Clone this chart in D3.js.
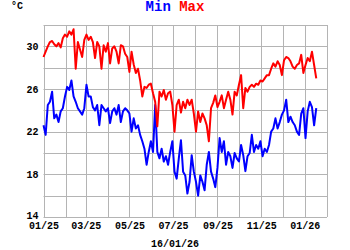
<!DOCTYPE html>
<html>
<head>
<meta charset="utf-8">
<script src="https://cdn.jsdelivr.net/npm/d3@7"></script>
<style>
  body { margin: 0; background: #fff; }
  text { font-family: "Liberation Mono", "DejaVu Sans Mono", monospace; font-weight: bold; }
</style>
</head>
<body>
<svg id="chart" width="350" height="250"></svg>
<script>
// readings every 3 days starting 01/01/25
const START_DATE = new Date(2025, 0, 1);
const STEP_DAYS = 3;

const maxTemp = [
  29.0, 29.5, 30.0, 30.4, 30.5, 30.2, 30.0, 30.3, 29.9, 30.75, 31.1, 30.9, 31.4, 31.1, 31.6, 27.9,
  30.4, 29.7, 29.0, 30.6, 31.1, 30.6, 30.9, 30.4, 28.9, 30.4, 30.0, 27.9, 30.1, 29.5, 30.3, 28.4,
  29.8, 30.0, 29.5, 28.4, 30.1, 30.0, 29.3, 29.0, 27.6, 29.5, 28.3, 27.5, 27.9, 26.8, 25.3, 26.2,
  26.1, 26.4, 26.5, 25.6, 24.8, 22.5, 25.75, 25.3, 25.9, 25.0, 25.6, 25.75, 24.5, 22.0, 24.5, 25.0,
  23.8, 24.8, 24.2, 25.0, 24.5, 25.0, 23.7, 22.0, 23.9, 22.9, 23.7, 23.25, 22.6, 21.1, 24.2, 24.7,
  25.4, 24.3, 24.8, 25.4, 24.2, 25.0, 25.75, 25.0, 23.6, 25.75, 25.4, 26.4, 27.3, 24.2, 26.1, 25.75,
  26.2, 26.4, 26.2, 26.5, 26.4, 26.8, 26.7, 27.0, 27.3, 27.3, 27.9, 28.4, 28.1, 28.6, 28.25, 27.3,
  28.7, 29.0, 28.9, 28.6, 28.1, 27.9, 28.25, 28.4, 29.2, 27.5, 28.25, 28.9, 28.6, 29.5, 28.25, 27.0
];

const minTemp = [
  22.6, 21.7, 24.5, 24.8, 25.75, 23.25, 23.6, 22.9, 23.9, 24.2, 25.3, 26.2, 25.9, 26.8, 25.3, 24.8,
  24.2, 23.9, 23.6, 24.2, 26.4, 25.3, 25.3, 24.3, 24.0, 24.5, 22.6, 24.5, 24.2, 23.9, 24.2, 22.8,
  23.9, 24.2, 23.6, 24.5, 22.9, 23.9, 24.2, 24.0, 23.7, 22.0, 23.25, 22.3, 22.6, 21.7, 21.1, 20.4,
  18.9, 20.1, 21.1, 20.1, 24.5, 20.1, 19.5, 20.4, 19.2, 19.7, 18.9, 20.1, 21.1, 18.25, 17.6, 19.5,
  21.2, 18.25, 17.9, 16.2, 17.3, 19.8, 18.25, 17.3, 16.0, 17.9, 17.3, 16.5, 18.9, 20.1, 18.25, 17.6,
  16.8, 18.6, 21.4, 20.1, 21.1, 18.9, 20.1, 19.7, 18.6, 20.0, 19.5, 19.2, 20.75, 19.8, 18.3, 19.7,
  20.0, 21.7, 20.1, 20.75, 20.4, 21.1, 19.7, 20.4, 20.1, 20.75, 22.0, 22.3, 23.25, 22.3, 22.9, 23.6,
  24.0, 25.0, 22.9, 23.4, 22.9, 22.6, 22.0, 21.7, 23.7, 24.2, 21.4, 23.9, 24.8, 24.3, 22.6, 24.2
];

const yTicks = [14, 18, 22, 26, 30];
const yGrid = [14, 16, 18, 20, 22, 24, 26, 28, 30, 32];
const title = [{ text: "Min", color: "#0000ff" }, { text: "Max", color: "#ff0000" }];
const unitLabel = "°C";
const dateLabel = "16/01/26";

const svg = d3.select("#chart");
const width = 350;
const plot = { left: 43.5, right: 327, top: 25, bottom: 217 };
const gridColor = "#b4b4b4";

const dates = maxTemp.map((_, i) => d3.timeDay.offset(START_DATE, i * STEP_DAYS));

const x = d3
  .scaleTime()
  .domain([new Date(2025, 0, 1), new Date(2026, 1, 1)])
  .range([plot.left, plot.right]);

const y = d3
  .scaleLinear()
  .domain([14, 32])
  .range([plot.bottom, plot.top]);

// grid
svg
  .append("g")
  .selectAll("line")
  .data(yGrid)
  .join("line")
  .attr("x1", plot.left)
  .attr("x2", plot.right)
  .attr("y1", (d) => Math.round(y(d)) + 0.5)
  .attr("y2", (d) => Math.round(y(d)) + 0.5)
  .attr("stroke", gridColor);

svg
  .append("g")
  .selectAll("line")
  .data(d3.timeMonth.range(new Date(2025, 0, 1), new Date(2026, 1, 2)))
  .join("line")
  .attr("x1", (d) => Math.round(x(d)) + 0.5)
  .attr("x2", (d) => Math.round(x(d)) + 0.5)
  .attr("y1", plot.top)
  .attr("y2", plot.bottom)
  .attr("stroke", gridColor);

// axes labels
const yAxis = svg
  .append("g")
  .attr("transform", `translate(${plot.left},0)`)
  .call(d3.axisLeft(y).tickValues(yTicks).tickSize(0).tickPadding(5));
yAxis.select(".domain").remove();
yAxis.selectAll("text").attr("font-size", 10).attr("fill", "#000");
// the bottom label sits a bit higher, as in the original
yAxis.selectAll(".tick").filter((d) => d === 14).select("text").attr("dy", "0.1em");

const xAxis = svg
  .append("g")
  .attr("transform", `translate(0,${plot.bottom})`)
  .call(
    d3
      .axisBottom(x)
      .ticks(d3.timeMonth.every(2))
      .tickFormat(d3.timeFormat("%m/%y"))
      .tickSize(0)
      .tickPadding(5)
  );
xAxis.select(".domain").remove();
xAxis.selectAll("text").attr("font-size", 10).attr("fill", "#000");

// series
const line = d3
  .line()
  .x((d, i) => x(dates[i]))
  .y((d) => y(d));

svg
  .append("path")
  .datum(minTemp)
  .attr("fill", "none")
  .attr("stroke", "#0000ff")
  .attr("stroke-width", 2)
  .attr("stroke-linejoin", "round")
  .attr("d", line);

svg
  .append("path")
  .datum(maxTemp)
  .attr("fill", "none")
  .attr("stroke", "#ff0000")
  .attr("stroke-width", 2)
  .attr("stroke-linejoin", "round")
  .attr("d", line);

// titles
const t = svg
  .append("text")
  .attr("x", width / 2)
  .attr("y", 11)
  .attr("text-anchor", "middle")
  .attr("font-size", 14);
title.forEach((d, i) => {
  t.append("tspan")
    .text((i ? " " : "") + d.text)
    .attr("fill", d.color);
});

svg
  .append("text")
  .attr("x", 11)
  .attr("y", 9)
  .attr("font-size", 10)
  .text(unitLabel);

svg
  .append("text")
  .attr("x", width / 2)
  .attr("y", 247)
  .attr("text-anchor", "middle")
  .attr("font-size", 10)
  .text(dateLabel);
</script>
</body>
</html>
